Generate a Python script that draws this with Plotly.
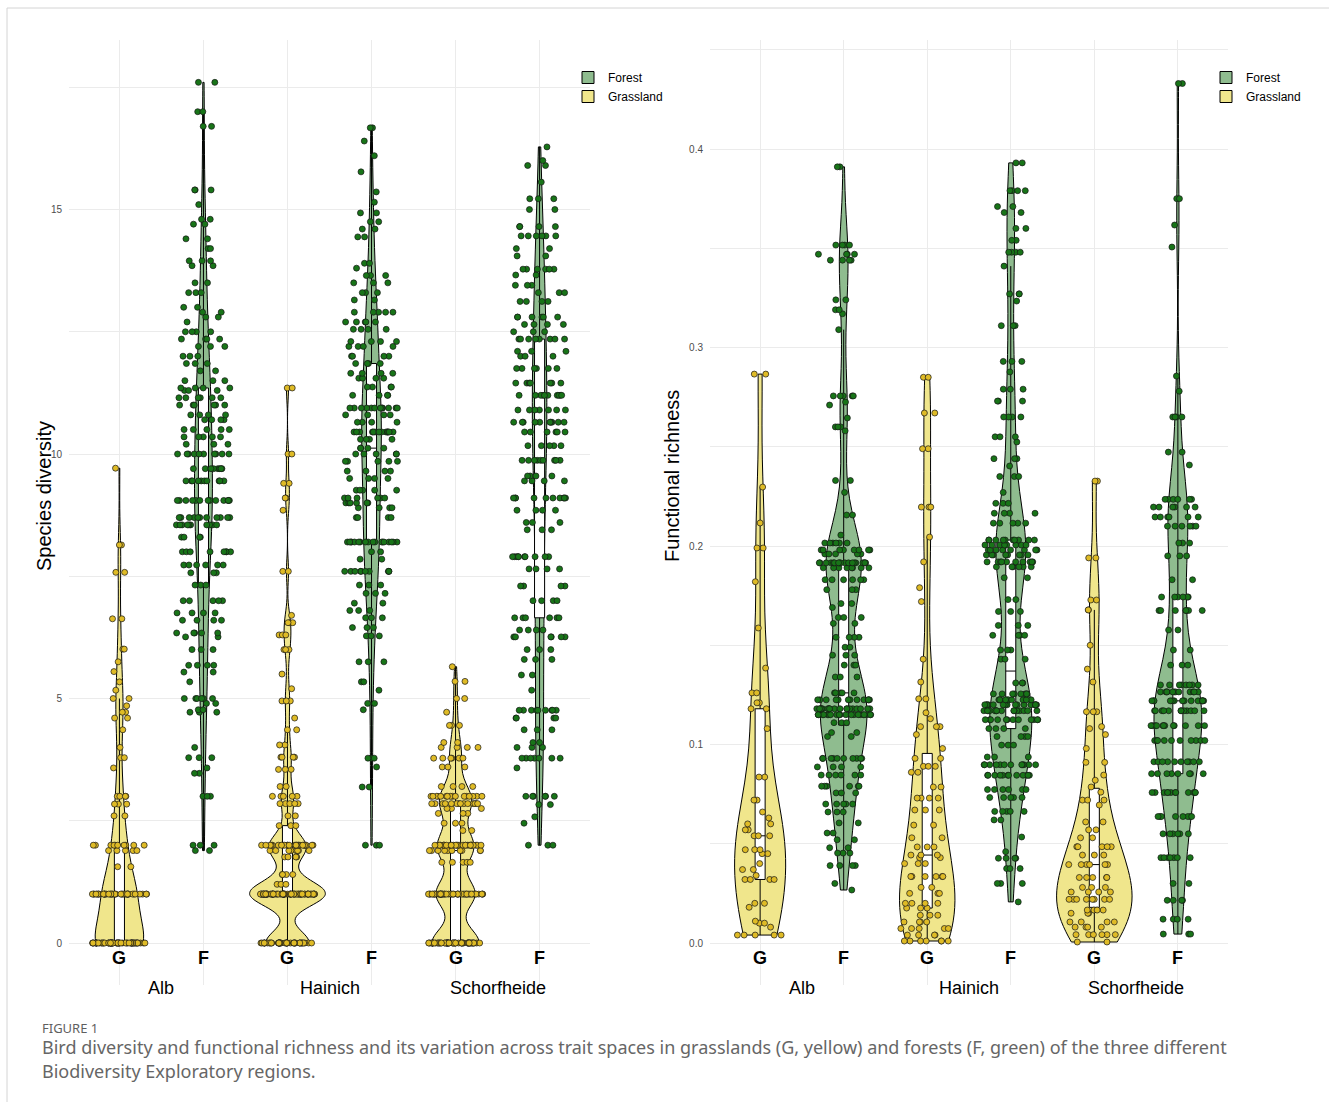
import numpy as np
import plotly.graph_objects as go

W, H = 1329, 1102

regions = ["Alb", "Hainich", "Schorfheide"]
habitats = ["G", "F"]
habitat_names = {"F": "Forest", "G": "Grassland"}

# ---- Species diversity: observed value levels and how many plots share each ----
alb_g_sd_levels = [0, 1, 1.56, 1.89, 2, 2.6, 2.84, 3, 3.58, 3.79, 4, 4.36, 4.6, 4.72, 4.85,
                   5, 5.17, 5.34, 5.55, 5.75, 6.01, 6.63, 7.58, 8.14, 9.71]
alb_g_sd_counts = [60, 38, 2, 5, 10, 2, 3, 4, 1, 2, 1, 1, 2, 2, 1,
                   2, 1, 1, 1, 1, 2, 2, 2, 2, 1]

alb_f_sd_levels = [17.6, 17.0, 16.7, 15.4, 15.1, 14.8, 14.7, 14.4, 14.2, 13.95, 13.85, 13.5, 13.3,
                   13.0, 12.9, 12.8, 12.7, 12.5, 12.35, 12.2, 12.0, 11.85, 11.7, 11.5, 11.35, 11.3,
                   11.15, 11.0, 10.8, 10.7, 10.5, 10.35, 10.2, 10.0, 9.7, 9.45, 9.05, 8.7, 8.55, 8.3,
                   8.0, 7.73, 7.57, 7.32, 7.0, 6.75, 6.6, 6.34, 6.26, 6.0, 5.68, 5.54, 5.34, 5.0,
                   4.9, 4.77, 4.72, 4.0, 3.79, 3.58, 3.47, 3.0, 2.0, 1.89]
alb_f_sd_counts = [2, 2, 2, 3, 1, 2, 2, 2, 2, 3, 2, 2, 3,
                   2, 2, 2, 1, 4, 4, 3, 3, 3, 2, 3, 4, 3,
                   6, 6, 4, 4, 5, 5, 3, 10, 8, 10, 13, 11, 10, 4,
                   8, 6, 3, 3, 5, 4, 4, 5, 2, 3, 4, 2, 1, 6,
                   2, 2, 3, 1, 3, 1, 2, 3, 3, 2]

hai_g_sd_levels = [0, 1, 1.2, 1.4, 1.76, 1.89, 2, 2.4, 2.6, 2.85, 3, 3.2, 3.55, 3.8, 4.05,
                   4.36, 4.6, 4.95, 5.2, 5.5, 6.0, 6.3, 6.55, 6.7, 7.6, 8.85, 9.1, 9.4, 10.0, 11.35]
hai_g_sd_counts = [42, 70, 3, 4, 4, 8, 25, 3, 2, 5, 5, 2, 3, 4, 2,
                   2, 1, 3, 1, 1, 3, 3, 3, 1, 2, 1, 2, 2, 2, 2]

hai_f_sd_levels = [16.67, 16.4, 16.1, 15.77, 15.36, 15.15, 14.93, 14.75, 14.6, 14.44, 13.9, 13.8,
                   13.65, 13.5, 13.3, 13.15, 12.9, 12.7, 12.55, 12.3, 12.2, 12.0, 11.85, 11.65,
                   11.55, 11.37, 11.2, 10.94, 10.8, 10.65, 10.45, 10.3, 10.12, 10.0, 9.85, 9.65,
                   9.5, 9.26, 9.1, 9.0, 8.9, 8.7, 8.2, 8.0, 7.85, 7.6, 7.32, 7.15, 6.95, 6.8,
                   6.65, 6.45, 6.28, 5.75, 5.34, 5.17, 4.9, 4.77, 3.78, 3.6, 3.19, 2.0]
hai_f_sd_counts = [2, 1, 1, 1, 1, 1, 2, 2, 2, 2, 2, 1,
                   3, 3, 3, 2, 5, 5, 4, 4, 4, 4, 4, 4,
                   4, 4, 4, 12, 4, 4, 14, 4, 4, 5, 5, 4,
                   4, 5, 6, 6, 4, 4, 18, 2, 2, 10, 3, 3, 2, 3,
                   3, 3, 3, 3, 2, 1, 2, 1, 3, 1, 2, 3]

sch_g_sd_levels = [0, 1, 1.65, 1.89, 2, 2.3, 2.45, 2.65, 2.75, 2.85, 3, 3.2, 3.6, 3.78, 4,
                   4.1, 4.45, 4.72, 5, 5.35, 5.65]
sch_g_sd_counts = [55, 45, 5, 10, 28, 2, 3, 3, 3, 14, 16, 4, 3, 6, 4,
                   2, 3, 1, 2, 2, 1]

sch_f_sd_levels = [16.28, 16.0, 15.9, 15.56, 15.22, 15.0, 14.65, 14.46, 14.2, 14.05, 13.78, 13.66,
                   13.45, 13.3, 13.12, 12.8, 12.65, 12.5, 12.35, 12.1, 12.0, 11.75, 11.45, 11.2,
                   10.9, 10.65, 10.45, 10.17, 9.87, 9.55, 9.45, 9.1, 8.85, 8.6, 8.45, 7.9, 7.65,
                   7.3, 7.0, 6.65, 6.4, 6.26, 6.0, 5.8, 5.48, 5.17, 4.76, 4.6, 4.36, 4.1, 4.0,
                   3.78, 3.58, 3.0, 2.83, 2.58, 2.45, 2.0]
sch_f_sd_counts = [1, 1, 2, 1, 3, 2, 4, 6, 2, 2, 6, 2,
                   3, 3, 4, 6, 4, 3, 8, 3, 3, 6, 7, 10,
                   7, 10, 6, 5, 9, 4, 4, 10, 4, 3, 3, 10, 4,
                   4, 4, 6, 4, 6, 3, 3, 2, 1, 9, 4, 3, 2, 3,
                   7, 1, 6, 2, 1, 1, 3]

# ---- Functional richness ----
alb_g_fr_levels = [0.2866, 0.2297, 0.2116, 0.199, 0.182, 0.1587, 0.1385, 0.126, 0.121, 0.118,
                   0.108, 0.0836, 0.072, 0.066, 0.063, 0.06, 0.057, 0.054, 0.047, 0.045,
                   0.04, 0.037, 0.034, 0.032, 0.02, 0.018, 0.011, 0.01, 0.008, 0.004]
alb_g_fr_counts = [2, 1, 1, 2, 1, 1, 1, 2, 2, 2,
                   1, 2, 2, 1, 1, 2, 2, 3, 3, 2,
                   1, 2, 1, 4, 2, 1, 1, 2, 1, 5]

alb_f_fr_levels = [0.391, 0.3516, 0.347, 0.344, 0.324, 0.319, 0.317, 0.309, 0.2756, 0.2725,
                   0.271, 0.2645, 0.26, 0.258, 0.233, 0.227, 0.2156, 0.2055, 0.2015, 0.198,
                   0.196, 0.1915, 0.189, 0.183, 0.178, 0.171, 0.169, 0.164, 0.161, 0.154,
                   0.149, 0.145, 0.14, 0.134, 0.126, 0.1225, 0.118, 0.115, 0.111, 0.106,
                   0.104, 0.093, 0.0887, 0.0846, 0.079, 0.0756, 0.07, 0.066, 0.0605, 0.0554,
                   0.052, 0.048, 0.0453, 0.039, 0.030, 0.0267]
alb_f_fr_counts = [2, 4, 4, 4, 2, 2, 1, 1, 5, 1,
                   1, 1, 3, 1, 2, 1, 2, 1, 6, 8,
                   5, 18, 8, 6, 3, 2, 1, 3, 2, 4,
                   2, 3, 3, 3, 5, 12, 20, 20, 3, 2,
                   2, 10, 4, 6, 6, 3, 5, 3, 2, 2,
                   2, 2, 3, 4, 1, 1]

hai_g_fr_levels = [0.285, 0.267, 0.249, 0.2196, 0.2045, 0.192, 0.179, 0.172, 0.143, 0.1315,
                   0.123, 0.116, 0.113, 0.109, 0.105, 0.098, 0.093, 0.089, 0.086, 0.0786,
                   0.073, 0.067, 0.0594, 0.053, 0.0484, 0.0443, 0.043, 0.04, 0.0335, 0.028,
                   0.025, 0.02, 0.0176, 0.014, 0.0106, 0.0073, 0.004, 0.001]
hai_g_fr_counts = [2, 2, 2, 3, 1, 1, 1, 1, 1, 1,
                   2, 1, 1, 3, 1, 1, 2, 3, 2, 2,
                   4, 3, 2, 2, 3, 3, 2, 3, 6, 2,
                   3, 4, 3, 3, 4, 5, 4, 7]

hai_f_fr_levels = [0.393, 0.379, 0.371, 0.368, 0.36, 0.354, 0.348, 0.341, 0.327, 0.3234,
                   0.311, 0.293, 0.2877, 0.279, 0.273, 0.265, 0.255, 0.2524, 0.244, 0.2403,
                   0.235, 0.227, 0.2215, 0.2165, 0.2115, 0.203, 0.2005, 0.198, 0.1955, 0.192,
                   0.1895, 0.184, 0.173, 0.167, 0.16, 0.155, 0.1476, 0.143, 0.131, 0.1255,
                   0.1225, 0.12, 0.117, 0.1125, 0.108, 0.104, 0.0997, 0.0937, 0.0898, 0.0845,
                   0.0773, 0.0733, 0.0663, 0.062, 0.0534, 0.046, 0.0427, 0.0375, 0.03, 0.0207]
hai_f_fr_counts = [2, 4, 2, 2, 2, 2, 4, 1, 3, 1,
                   3, 3, 1, 3, 3, 4, 3, 1, 3, 1,
                   3, 1, 3, 4, 5, 10, 8, 8, 8, 10,
                   6, 2, 2, 3, 3, 4, 3, 3, 3, 8,
                   10, 16, 16, 12, 4, 4, 3, 3, 12, 12,
                   6, 5, 5, 2, 1, 1, 4, 3, 3, 1]

sch_g_fr_levels = [0.2327, 0.194, 0.1728, 0.1678, 0.15, 0.138, 0.1315, 0.1165, 0.109, 0.108,
                   0.105, 0.098, 0.091, 0.0846, 0.082, 0.0786, 0.076, 0.072, 0.0695, 0.061,
                   0.057, 0.053, 0.0485, 0.0443, 0.0395, 0.033, 0.028, 0.0257, 0.022, 0.0166,
                   0.015, 0.0106, 0.008, 0.0042, 0.0005]
sch_g_fr_counts = [2, 2, 2, 2, 1, 1, 1, 3, 1, 1,
                   1, 1, 2, 1, 1, 1, 1, 3, 1, 2,
                   2, 2, 5, 3, 6, 5, 3, 4, 8, 4,
                   3, 4, 4, 6, 2]

sch_f_fr_levels = [0.433, 0.375, 0.3617, 0.3506, 0.2856, 0.278, 0.265, 0.2473, 0.2408, 0.2235,
                   0.2196, 0.2146, 0.21, 0.2015, 0.195, 0.183, 0.1743, 0.1675, 0.1577, 0.1476,
                   0.14, 0.13, 0.1265, 0.122, 0.117, 0.1095, 0.102, 0.0913, 0.0853, 0.0758,
                   0.0637, 0.055, 0.043, 0.03, 0.0215, 0.012, 0.0045]
sch_f_fr_counts = [2, 2, 1, 1, 1, 1, 4, 2, 1, 6,
                   6, 6, 6, 3, 3, 2, 6, 7, 2, 2,
                   3, 8, 12, 14, 12, 12, 10, 10, 8, 12,
                   8, 6, 7, 2, 4, 4, 3]

# Axis ticks (minor gridlines carry an empty label)
sd_tickvals = [0, 2.5, 5, 7.5, 10, 12.5, 15, 17.5]
sd_ticktext = ["0", "", "5", "", "10", "", "15", ""]
fr_tickvals = [0, 0.05, 0.1, 0.15, 0.2, 0.25, 0.3, 0.35, 0.4, 0.45]
fr_ticktext = ["0.0", "", "0.1", "", "0.2", "", "0.3", "", "0.4", ""]

caption_title = "FIGURE 1"
caption_lines = [
    "Bird diversity and functional richness and its variation across trait spaces in grasslands "
    "(G, yellow) and forests (F, green) of the three different",
    "Biodiversity Exploratory regions.",
]

# KDE smoothing chosen by hand for the count-like grassland diversity data
sd_bandwidth = {("Alb", "G"): 0.5, ("Hainich", "G"): 0.25, ("Schorfheide", "G"): 0.30}


def expand(levels, counts):
    return np.repeat(np.asarray(levels, dtype=float), np.asarray(counts, dtype=int))


def nrd0(v):
    # Silverman's rule of thumb, as used by R's density()
    v = np.asarray(v, dtype=float)
    sd = v.std(ddof=1)
    q75, q25 = np.percentile(v, [75, 25])
    lo = min(sd, (q75 - q25) / 1.34)
    if lo <= 0:
        lo = sd
    return 0.9 * lo * len(v) ** -0.2


def peak_density(v, bw):
    # highest value of the gaussian KDE over the data range
    grid = np.linspace(v.min(), v.max(), 512)
    z = (grid[:, None] - v[None, :]) / bw
    dens = np.exp(-0.5 * z ** 2).sum(axis=1) / (len(v) * bw * np.sqrt(2 * np.pi))
    return dens.max()


sd_groups = {
    ("Alb", "G"): expand(alb_g_sd_levels, alb_g_sd_counts),
    ("Alb", "F"): expand(alb_f_sd_levels, alb_f_sd_counts),
    ("Hainich", "G"): expand(hai_g_sd_levels, hai_g_sd_counts),
    ("Hainich", "F"): expand(hai_f_sd_levels, hai_f_sd_counts),
    ("Schorfheide", "G"): expand(sch_g_sd_levels, sch_g_sd_counts),
    ("Schorfheide", "F"): expand(sch_f_sd_levels, sch_f_sd_counts),
}
fr_groups = {
    ("Alb", "G"): expand(alb_g_fr_levels, alb_g_fr_counts),
    ("Alb", "F"): expand(alb_f_fr_levels, alb_f_fr_counts),
    ("Hainich", "G"): expand(hai_g_fr_levels, hai_g_fr_counts),
    ("Hainich", "F"): expand(hai_f_fr_levels, hai_f_fr_counts),
    ("Schorfheide", "G"): expand(sch_g_fr_levels, sch_g_fr_counts),
    ("Schorfheide", "F"): expand(sch_f_fr_levels, sch_f_fr_counts),
}

styles = {
    "F": dict(fill="#8fbc8f", point="#187418"),
    "G": dict(fill="#f0e68c", point="#dfbb26"),
}

categories = [f"{r} {h}" for r in regions for h in habitats]

VIOLIN_W = 0.9   # width of the widest violin in a panel (category units)
BOX_W = 0.12     # width of the inner box plots
JITTER_W = 0.9   # band the jittered points are spread over

fig = go.Figure()

panels = [
    dict(groups=sd_groups, bw=sd_bandwidth, xa="x", ya="y", legend="legend"),
    dict(groups=fr_groups, bw={}, xa="x2", ya="y2", legend="legend2"),
]

for p in panels:
    bws = {k: p["bw"].get(k, nrd0(v)) for k, v in p["groups"].items()}
    peaks = {k: peak_density(v, bws[k]) for k, v in p["groups"].items()}
    top = max(peaks.values())
    shown = set()
    for region in regions:
        for hab in habitats:
            key = (region, hab)
            vals = p["groups"][key]
            cat = f"{region} {hab}"
            st = styles[hab]
            # violin: equal-area scaling across the panel
            fig.add_trace(go.Violin(
                x0=cat, y=vals,
                name=habitat_names[hab], legendgroup=hab,
                legendrank=1 if hab == "F" else 2,
                showlegend=hab not in shown, legend=p["legend"],
                xaxis=p["xa"], yaxis=p["ya"],
                width=VIOLIN_W * peaks[key] / top,
                spanmode="hard", bandwidth=bws[key],
                fillcolor=st["fill"], opacity=1,
                line=dict(color="black", width=1),
                points=False, box=dict(visible=False),
                meanline=dict(visible=False), hoverinfo="skip",
            ))
            shown.add(hab)
            # narrow white box plot
            fig.add_trace(go.Box(
                x0=cat, y=vals, showlegend=False,
                xaxis=p["xa"], yaxis=p["ya"], width=BOX_W,
                fillcolor="white", line=dict(color="black", width=1),
                whiskerwidth=0, boxpoints="outliers",
                marker=dict(opacity=0, size=1), hoverinfo="skip",
            ))
            # jittered observations
            fig.add_trace(go.Box(
                x0=cat, y=vals, showlegend=False,
                xaxis=p["xa"], yaxis=p["ya"], width=JITTER_W,
                fillcolor="rgba(0,0,0,0)", line=dict(color="rgba(0,0,0,0)", width=0),
                whiskerwidth=0, boxpoints="all", jitter=0.72, pointpos=0,
                marker=dict(size=6, color=st["point"], opacity=1,
                            line=dict(color="#151515", width=0.7)),
                hoveron="points",
            ))

grid = "#ebebeb"
tickfont = dict(size=10, color="#4d4d4d", family="Liberation Sans, Arial, sans-serif")
y_dom = [1 - 985 / H, 1 - 40 / H]


def xaxis_cfg(left_px, right_px, anchor):
    return dict(domain=[left_px / W, right_px / W], type="category",
                categoryorder="array", categoryarray=categories,
                range=[-0.6, 5.6], showgrid=True, gridcolor=grid, gridwidth=1,
                showticklabels=False, ticks="", zeroline=False, showline=False,
                anchor=anchor, fixedrange=True)


def yaxis_cfg(rng, tv, tt, anchor):
    return dict(domain=y_dom, range=rng, tickmode="array", tickvals=tv, ticktext=tt,
                showgrid=True, gridcolor=grid, gridwidth=1, zeroline=False,
                showline=False, ticks="", tickfont=tickfont, ticklabelstandoff=6,
                anchor=anchor, fixedrange=True)


sd_px = 48.9     # pixels per unit of species diversity
fr_px = 1985.0   # pixels per unit of functional richness

fig.update_layout(
    width=W, height=H, margin=dict(l=0, r=0, t=0, b=0),
    paper_bgcolor="white", plot_bgcolor="white",
    violinmode="overlay", boxmode="overlay",
    font=dict(family="Liberation Sans, Arial, sans-serif", color="black"),
    xaxis=xaxis_cfg(69, 590, "y"),
    yaxis=yaxis_cfg([-(985 - 943) / sd_px, (943 - 40) / sd_px], sd_tickvals, sd_ticktext, "x"),
    xaxis2=xaxis_cfg(710, 1228, "y2"),
    yaxis2=yaxis_cfg([-(985 - 943) / fr_px, (943 - 40) / fr_px], fr_tickvals, fr_ticktext, "x2"),
    legend=dict(x=568 / W, y=1 - 63 / H, xanchor="left", yanchor="top",
                font=dict(size=12), bgcolor="rgba(0,0,0,0)", tracegroupgap=0),
    legend2=dict(x=1206 / W, y=1 - 63 / H, xanchor="left", yanchor="top",
                 font=dict(size=12), bgcolor="rgba(0,0,0,0)", tracegroupgap=0),
    showlegend=True,
)

ann = []
# habitat letters under each violin and region names under each pair
for xref in ("x", "x2"):
    for cat in categories:
        ann.append(dict(x=cat, xref=xref, y=1 - 958 / H, yref="paper",
                        text="<b>" + cat.split()[-1] + "</b>", showarrow=False,
                        font=dict(size=18, color="black"),
                        xanchor="center", yanchor="middle"))
    for j, region in enumerate(regions):
        ann.append(dict(x=2 * j + 0.5, xref=xref, y=1 - 988 / H, yref="paper",
                        text=region, showarrow=False,
                        font=dict(size=18, color="black"),
                        xanchor="center", yanchor="middle"))

ann.append(dict(x=44 / W, y=1 - 496 / H, xref="paper", yref="paper",
                text="Species diversity", textangle=-90, showarrow=False,
                font=dict(size=20, color="black"), xanchor="center", yanchor="middle"))
ann.append(dict(x=672 / W, y=1 - 476 / H, xref="paper", yref="paper",
                text="Functional richness", textangle=-90, showarrow=False,
                font=dict(size=20, color="black"), xanchor="center", yanchor="middle"))

# figure caption
ann.append(dict(x=40 / W, y=1 - 1028 / H, xref="paper", yref="paper",
                text=caption_title, showarrow=False, xanchor="left", yanchor="middle",
                font=dict(size=13, color="#5f5f5f", family="Noto Sans, Open Sans, sans-serif")))
for k, line in enumerate(caption_lines):
    ann.append(dict(x=40 / W, y=1 - (1047 + 24 * k) / H, xref="paper", yref="paper",
                    text=line, showarrow=False, xanchor="left", yanchor="middle",
                    font=dict(size=18, color="#666666",
                              family="Noto Sans, Open Sans, sans-serif")))

fig.update_layout(annotations=ann)

# thin page frame along the top and left edges
fig.add_shape(type="line", xref="paper", yref="paper", x0=7 / W, x1=1, y0=1 - 8 / H, y1=1 - 8 / H,
              line=dict(color="#d4d4d4", width=1))
fig.add_shape(type="line", xref="paper", yref="paper", x0=7 / W, x1=7 / W, y0=0, y1=1 - 8 / H,
              line=dict(color="#d4d4d4", width=1))

fig.write_html("out.html")
